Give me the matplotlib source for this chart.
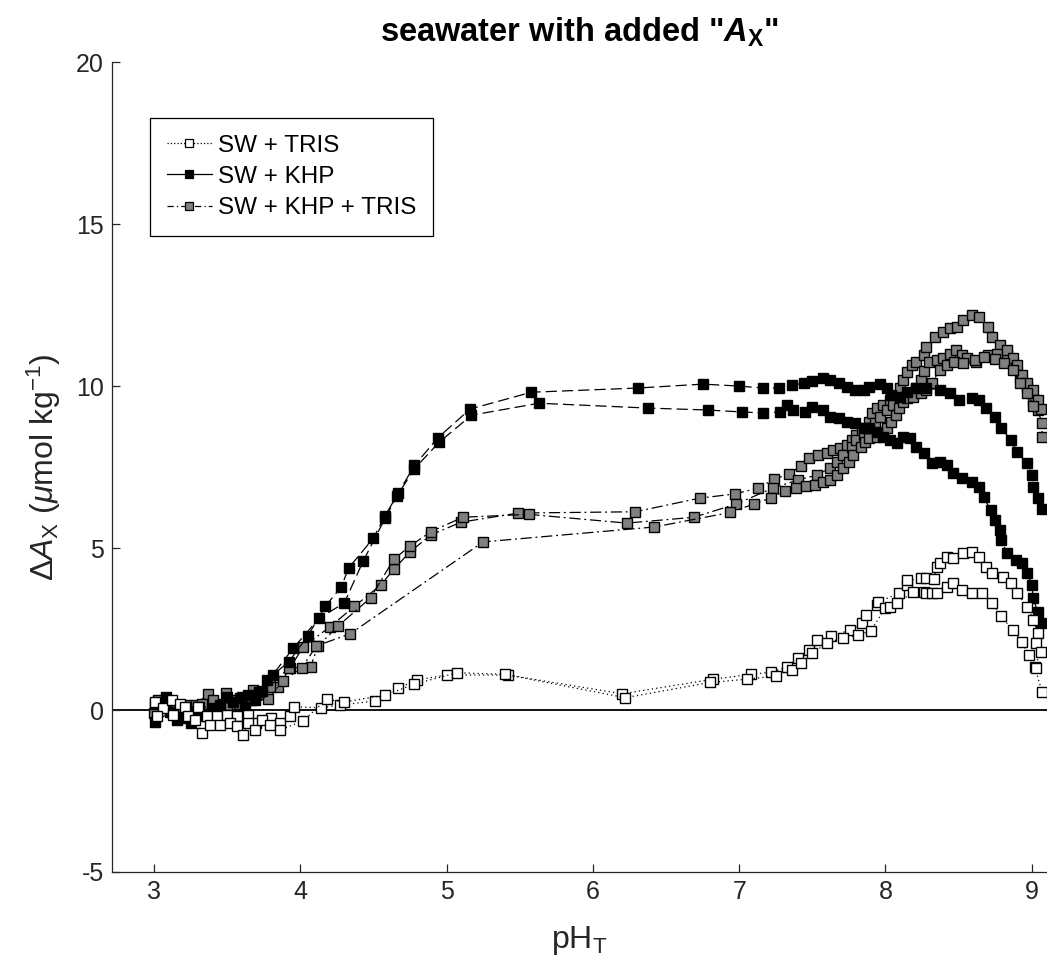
import matplotlib
matplotlib.use("Agg")
import matplotlib.pyplot as plt
from matplotlib.lines import Line2D

plt.rcParams['font.family'] = ['Liberation Sans', 'DejaVu Sans']
plt.rcParams['mathtext.fontset'] = 'custom'
plt.rcParams['mathtext.rm'] = 'Liberation Sans'
plt.rcParams['mathtext.it'] = 'Liberation Sans:italic'
plt.rcParams['mathtext.bf'] = 'Liberation Sans:bold'
plt.rcParams['mathtext.bfit'] = 'Liberation Sans:bold:italic'
plt.rcParams['axes.unicode_minus'] = False

# ---------------- data ----------------
tris1_ph = [3.01, 3.06, 3.12, 3.18, 3.21, 3.30, 3.36, 3.43, 3.50, 3.57, 3.64, 3.70, 3.80, 3.86, 3.93,
            3.96, 4.14, 4.27, 4.51, 4.67, 4.80, 5.00, 5.42, 6.20, 6.82, 7.08, 7.22, 7.33, 7.40, 7.48,
            7.53, 7.63, 7.76, 7.84, 7.87, 7.94, 7.95, 8.09, 8.15, 8.15, 8.24, 8.28, 8.33, 8.35, 8.37,
            8.42, 8.46, 8.53, 8.59, 8.64, 8.69, 8.73, 8.80, 8.86, 8.90, 8.97, 9.01, 9.04, 9.03, 9.06,
            9.02, 9.07]
tris1_dax = [0.25, 0.05, 0.30, 0.20, 0.10, 0.10, -0.20, -0.20, -0.15, -0.20, -0.15, -0.40, -0.25, -0.40, -0.20,
             0.10, 0.07, 0.15, 0.28, 0.68, 0.93, 1.08, 1.08, 0.50, 0.95, 1.10, 1.17, 1.33, 1.60, 1.85,
             2.16, 2.28, 2.47, 2.68, 2.93, 3.24, 3.33, 3.60, 3.85, 4.00, 4.07, 4.07, 4.05, 4.40, 4.54,
             4.72, 4.69, 4.84, 4.88, 4.72, 4.41, 4.23, 4.10, 3.92, 3.61, 3.18, 2.78, 2.38, 2.07, 1.79,
             1.33, 0.56]

tris2_ph = [3.02, 3.13, 3.23, 3.28, 3.33, 3.38, 3.45, 3.52, 3.57, 3.61, 3.64, 3.69, 3.74, 3.79, 3.86,
            4.02, 4.18, 4.30, 4.58, 4.78, 5.07, 5.40, 6.22, 6.80, 7.05, 7.25, 7.36, 7.42, 7.50, 7.60,
            7.71, 7.81, 7.90, 8.00, 8.03, 8.08, 8.19, 8.26, 8.28, 8.32, 8.35, 8.42, 8.46, 8.52, 8.59,
            8.66, 8.73, 8.79, 8.87, 8.93, 8.98, 9.03]
tris2_dax = [-0.20, -0.15, -0.20, -0.30, -0.70, -0.45, -0.45, -0.40, -0.50, -0.77, -0.40, -0.62, -0.30, -0.45, -0.62,
             -0.33, 0.33, 0.25, 0.46, 0.80, 1.15, 1.10, 0.38, 0.85, 0.95, 1.05, 1.25, 1.45, 1.75, 2.07,
             2.22, 2.31, 2.45, 3.15, 3.18, 3.30, 3.64, 3.64, 3.61, 3.60, 3.60, 3.80, 3.92, 3.70, 3.60,
             3.60, 3.30, 2.90, 2.47, 2.10, 1.70, 1.30]

khp1_ph = [3.01, 3.08, 3.16, 3.25, 3.31, 3.40, 3.50, 3.59, 3.64, 3.72, 3.77, 3.92, 4.05, 4.17, 4.28,
           4.33, 4.50, 4.58, 4.67, 4.78, 4.94, 5.16, 5.58, 6.31, 6.75, 7.00, 7.16, 7.27, 7.36, 7.44,
           7.50, 7.57, 7.62, 7.68, 7.74, 7.79, 7.85, 7.89, 7.96, 8.01, 8.04, 8.10, 8.15, 8.21, 8.28,
           8.37, 8.44, 8.50, 8.59, 8.64, 8.69, 8.75, 8.79, 8.86, 8.90, 8.97, 9.00, 9.01, 9.04, 9.07]
khp1_dax = [0.20, 0.40, -0.30, -0.40, 0.10, 0.06, 0.40, 0.37, 0.46, 0.55, 0.93, 1.48, 2.28, 3.20, 3.80,
            4.38, 5.31, 6.00, 6.70, 7.55, 8.40, 9.29, 9.81, 9.94, 10.06, 10.00, 9.94, 9.94, 10.03, 10.09,
            10.15, 10.25, 10.19, 10.09, 9.97, 9.88, 9.88, 9.97, 10.06, 9.94, 9.72, 9.66, 9.81, 9.94, 9.94,
            9.88, 9.78, 9.57, 9.63, 9.57, 9.32, 9.04, 8.70, 8.33, 7.96, 7.62, 7.25, 6.88, 6.54, 6.20]

khp2_ph = [3.01, 3.11, 3.19, 3.27, 3.35, 3.45, 3.54, 3.62, 3.69, 3.74, 3.81, 3.95, 4.13, 4.30, 4.43,
           4.58, 4.66, 4.78, 4.95, 5.17, 5.63, 6.38, 6.79, 7.02, 7.16, 7.28, 7.33, 7.37, 7.45, 7.50,
           7.57, 7.62, 7.68, 7.74, 7.79, 7.85, 7.89, 7.94, 7.98, 8.03, 8.08, 8.12, 8.17, 8.21, 8.26,
           8.32, 8.37, 8.42, 8.46, 8.52, 8.59, 8.64, 8.67, 8.72, 8.75, 8.78, 8.79, 8.83, 8.89, 8.93,
           8.97, 9.00, 9.01, 9.04, 9.06]
khp2_dax = [-0.36, -0.06, -0.25, -0.10, -0.20, 0.15, 0.25, 0.10, 0.30, 0.60, 1.08, 1.90, 2.84, 3.30, 4.60,
            5.92, 6.60, 7.45, 8.27, 9.10, 9.47, 9.32, 9.26, 9.20, 9.17, 9.20, 9.41, 9.26, 9.20, 9.35,
            9.26, 9.04, 9.01, 8.89, 8.86, 8.70, 8.70, 8.58, 8.43, 8.33, 8.24, 8.43, 8.39, 8.12, 7.93,
            7.62, 7.65, 7.56, 7.31, 7.16, 7.04, 6.88, 6.57, 6.17, 5.86, 5.56, 5.25, 4.85, 4.63, 4.54,
            4.23, 3.86, 3.46, 3.02, 2.68]

kt1_ph = [3.02, 3.10, 3.20, 3.28, 3.37, 3.45, 3.55, 3.63, 3.70, 3.78, 3.85, 3.93, 4.02, 4.20, 4.37,
          4.55, 4.64, 4.75, 4.89, 5.10, 5.49, 6.29, 6.73, 6.97, 7.13, 7.24, 7.34, 7.42, 7.48, 7.54,
          7.60, 7.64, 7.69, 7.74, 7.77, 7.80, 7.84, 7.86, 7.89, 7.91, 7.94, 7.98, 8.03, 8.07, 8.10,
          8.12, 8.15, 8.18, 8.21, 8.26, 8.28, 8.34, 8.39, 8.44, 8.49, 8.53, 8.59, 8.64, 8.70, 8.73,
          8.78, 8.83, 8.89, 8.92, 8.97, 9.01, 9.04, 9.07, 9.07]
kt1_dax = [0.10, 0.20, 0.00, 0.15, 0.50, 0.20, 0.30, 0.35, 0.45, 0.72, 0.72, 1.30, 1.95, 2.56, 3.20,
           3.86, 4.35, 4.88, 5.40, 5.80, 6.08, 6.12, 6.54, 6.67, 6.85, 7.13, 7.28, 7.53, 7.78, 7.87,
           7.93, 8.02, 8.09, 8.18, 8.33, 8.49, 8.58, 8.70, 8.89, 9.17, 9.32, 9.41, 9.57, 9.66, 9.94,
           10.19, 10.43, 10.65, 10.74, 10.96, 11.20, 11.51, 11.67, 11.79, 11.82, 12.04, 12.19, 12.13, 11.82, 11.51,
           11.27, 10.96, 10.59, 10.28, 9.97, 9.57, 9.26, 8.86, 8.43]

kt2_ph = [3.00, 3.08, 3.15, 3.25, 3.33, 3.42, 3.49, 3.58, 3.66, 3.72, 3.79, 3.92, 4.07, 4.12, 4.26,
          4.48, 4.64, 4.75, 4.89, 5.11, 5.56, 6.23, 6.69, 6.98, 7.23, 7.40, 7.53, 7.62, 7.67, 7.71,
          7.77, 7.80, 7.85, 7.88, 7.93, 7.96, 8.01, 8.05, 8.10, 8.15, 8.21, 8.24, 8.26, 8.30, 8.35,
          8.39, 8.44, 8.48, 8.52, 8.56, 8.62, 8.70, 8.76, 8.83, 8.87, 8.90, 8.93, 8.97, 9.01, 9.04,
          9.06]
kt2_dax = [-0.10, 0.25, 0.10, -0.05, 0.20, 0.10, 0.52, 0.20, 0.30, 0.50, 0.70, 1.30, 1.33, 1.97, 2.60,
           3.46, 4.66, 5.06, 5.50, 5.95, 6.04, 5.77, 5.95, 6.36, 6.85, 7.10, 7.25, 7.47, 7.65, 7.87,
           8.12, 8.33, 8.49, 8.70, 8.86, 9.04, 9.26, 9.41, 9.57, 9.72, 9.94, 10.20, 10.45, 10.74, 10.80,
           10.86, 11.00, 11.10, 10.96, 10.86, 10.74, 10.96, 11.00, 11.10, 10.86, 10.65, 10.34, 10.09, 9.88, 9.57,
           9.30]

kt3_ph = [3.03, 3.12, 3.22, 3.30, 3.40, 3.50, 3.60, 3.68, 3.78, 3.88, 4.01, 4.11, 4.34, 5.25, 6.42,
          6.94, 7.10, 7.22, 7.31, 7.39, 7.46, 7.52, 7.57, 7.62, 7.67, 7.71, 7.75, 7.78, 7.83, 7.86,
          7.89, 7.94, 7.98, 8.01, 8.04, 8.07, 8.09, 8.12, 8.15, 8.19, 8.24, 8.28, 8.32, 8.37, 8.42,
          8.47, 8.53, 8.61, 8.67, 8.75, 8.81, 8.87, 8.92, 8.97, 9.01]
kt3_dax = [0.30, -0.05, 0.15, 0.05, 0.30, 0.15, 0.40, 0.62, 0.34, 0.90, 1.30, 1.98, 2.35, 5.19, 5.65,
           6.10, 6.36, 6.55, 6.76, 6.85, 6.91, 6.94, 7.04, 7.10, 7.25, 7.47, 7.65, 7.87, 8.12, 8.27,
           8.39, 8.43, 8.55, 8.70, 8.89, 9.10, 9.32, 9.50, 9.63, 9.66, 9.78, 9.88, 10.10, 10.50, 10.65,
           10.75, 10.70, 10.80, 10.90, 10.85, 10.70, 10.50, 10.10, 9.80, 9.40]

legend_labels = ['SW + TRIS', 'SW + KHP', 'SW + KHP + TRIS']
x_ticks = [3, 4, 5, 6, 7, 8, 9]
y_ticks = [-5, 0, 5, 10, 15, 20]

# ---------------- plot ----------------
fig = plt.figure(figsize=(10.47, 9.63), dpi=100)
ax = fig.add_axes([0.107, 0.0945, 0.893, 0.841])

ms = 6.8
mew = 1.0
lw = 0.9
gray = '#808080'
ink = '#262626'

styles = {
    'tris': dict(color='black', linestyle=(0, (1, 2.5)), linewidth=lw, marker='s',
                 markersize=ms, markerfacecolor='white', markeredgecolor='black', markeredgewidth=mew),
    'khp': dict(color='black', linestyle=(0, (9, 4)), linewidth=lw, marker='s',
                markersize=ms, markerfacecolor='black', markeredgecolor='black', markeredgewidth=mew),
    'kt': dict(color='black', linestyle=(0, (9, 3, 1.5, 3)), linewidth=lw, marker='s',
               markersize=ms, markerfacecolor=gray, markeredgecolor='black', markeredgewidth=mew),
}

ax.axhline(0, color='black', linewidth=1.3, zorder=1)

for xs, ys in [(kt1_ph, kt1_dax), (kt2_ph, kt2_dax), (kt3_ph, kt3_dax)]:
    ax.plot(xs, ys, zorder=2, **styles['kt'])
for xs, ys in [(khp1_ph, khp1_dax), (khp2_ph, khp2_dax)]:
    ax.plot(xs, ys, zorder=3, **styles['khp'])
for xs, ys in [(tris1_ph, tris1_dax), (tris2_ph, tris2_dax)]:
    ax.plot(xs, ys, zorder=4, **styles['tris'])

handles = [
    Line2D([], [], color='black', linestyle=':', linewidth=lw, marker='s', markersize=5.5,
           markerfacecolor='white', markeredgecolor='black', markeredgewidth=0.9),
    Line2D([], [], color='black', linestyle='-', linewidth=lw, marker='s', markersize=5.5,
           markerfacecolor='black', markeredgecolor='black', markeredgewidth=0.9),
    Line2D([], [], color='black', linestyle=(0, (5, 2.5, 1, 2.5)), linewidth=lw, marker='s', markersize=5.5,
           markerfacecolor=gray, markeredgecolor='black', markeredgewidth=0.9),
]
leg = ax.legend(handles, legend_labels, loc='upper left', bbox_to_anchor=(0.041, 0.931),
                fontsize=17.5, frameon=True, fancybox=False, edgecolor='black', framealpha=1,
                handlelength=1.85, handletextpad=0.25, borderpad=0.68, labelspacing=0.38,
                borderaxespad=0)
leg.get_frame().set_linewidth(0.9)

ax.set_xlim(2.713, 9.104)
ax.set_ylim(-5, 20)
ax.set_xticks(x_ticks)
ax.set_yticks(y_ticks)
ax.tick_params(direction='in', length=6, width=0.9, labelsize=18, colors=ink, pad=6)
for s in ['top', 'right']:
    ax.spines[s].set_visible(False)
for s in ['left', 'bottom']:
    ax.spines[s].set_linewidth(0.9)
    ax.spines[s].set_color(ink)

ax.set_xlabel(r'pH$_\mathrm{T}$', fontsize=23, color=ink, labelpad=14)
ax.set_ylabel(r'$\Delta\mathit{A}_\mathrm{X}$ ($\mu$mol kg$^{-1}$)', fontsize=23, color=ink, labelpad=9)
ax.set_title(r'seawater with added "$\mathbfit{A}_\mathbf{X}$"', fontsize=23.5, fontweight='bold', pad=15)

fig.savefig('out.png', dpi=100)
